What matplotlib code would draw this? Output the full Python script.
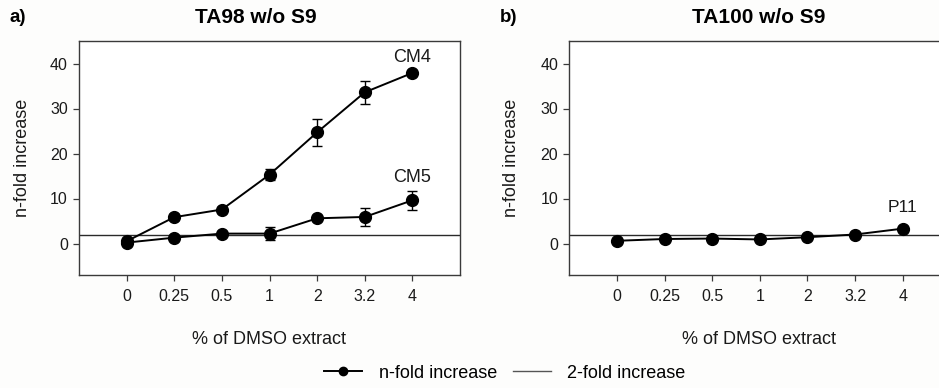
import matplotlib
matplotlib.use("Agg")
import matplotlib.pyplot as plt
from matplotlib.lines import Line2D

plt.rcParams['font.family'] = ['Liberation Sans', 'DejaVu Sans']

concentrations = ["0", "0.25", "0.5", "1", "2", "3.2", "4"]
cm4_values = [0.5, 5.85, 7.55, 15.3, 24.7, 33.6, 37.9]
cm4_errors = [0.3, 0.6, 0.6, 1.2, 3.0, 2.5, 0.5]
cm5_values = [0.2, 1.3, 2.2, 2.2, 5.6, 5.9, 9.6]
cm5_errors = [0.2, 0.3, 0.3, 1.5, 0.4, 2.1, 2.1]
p11_values = [0.6, 1.0, 1.1, 0.9, 1.4, 2.0, 3.3]
p11_errors = [0.2, 0.2, 0.2, 0.2, 0.3, 0.3, 0.4]
threshold = 2
yticks = [0, 10, 20, 30, 40]

W, H = 939, 388
fig = plt.figure(figsize=(W / 100, H / 100), dpi=100)
fig.patch.set_facecolor('#fdfdfc')

def px_axes(x0, x1, y0, y1):
    return fig.add_axes([x0 / W, 1 - y1 / H, (x1 - x0) / W, (y1 - y0) / H])

axL = px_axes(79, 460, 41, 275)
axR = px_axes(569.3, 950.3, 41, 275)

xs = list(range(len(concentrations)))
spine_col = '#3a3a3a'
txt_col = '#1a1a1a'

def style(ax):
    ax.set_xlim(-1, 7)
    ax.set_ylim(-7, 45)
    ax.set_xticks(xs)
    ax.set_xticklabels(concentrations)
    ax.set_yticks(yticks)
    ax.tick_params(direction='out', length=4, width=0.9, colors=spine_col,
                   labelsize=11.5, labelcolor=txt_col)
    ax.tick_params(axis='x', pad=6)
    ax.tick_params(axis='y', pad=4)
    for s in ax.spines.values():
        s.set_color(spine_col)
        s.set_linewidth(1.0)
    ax.set_facecolor('white')
    ax.axhline(threshold, color='#2a2a2a', lw=1.0, zorder=1)

def series(ax, vals, errs):
    ax.errorbar(xs, vals, yerr=errs, fmt='-o', color='black', lw=1.4,
                ms=8.5, elinewidth=1.0, capsize=3.5, capthick=1.0, zorder=3)

style(axL)
style(axR)
series(axL, cm4_values, cm4_errors)
series(axL, cm5_values, cm5_errors)
series(axR, p11_values, p11_errors)

axL.text(6, 41.4, "CM4", ha='center', va='center', fontsize=13, color=txt_col)
axL.text(6, 14.7, "CM5", ha='center', va='center', fontsize=13, color=txt_col)
axR.text(6, 8.1, "P11", ha='center', va='center', fontsize=12.5, color=txt_col)

fig.text(10 / W, 1 - 22 / H, "a)", fontsize=13.5, fontweight='bold', ha='left', va='baseline')
fig.text(500 / W, 1 - 22 / H, "b)", fontsize=13.5, fontweight='bold', ha='left', va='baseline')
fig.text(256 / W, 1 - 23 / H, "TA98 w/o S9", fontsize=15, fontweight='bold', ha='center', va='baseline')
fig.text(759 / W, 1 - 23 / H, "TA100 w/o S9", fontsize=15, fontweight='bold', ha='center', va='baseline')

for xc in (22.5, 511):
    fig.text(xc / W, 1 - 158 / H, "n-fold increase", rotation=90, fontsize=13,
             ha='center', va='center', color=txt_col)
for xc in (269.5, 759):
    fig.text(xc / W, 1 - 344 / H, "% of DMSO extract", fontsize=13,
             ha='center', va='baseline', color=txt_col)

handles = [Line2D([], [], color='black', marker='o', ms=6, lw=1.4),
           Line2D([], [], color='#555555', lw=1.0)]
fig.legend(handles, ["n-fold increase", "2-fold increase"], loc='center',
           bbox_to_anchor=(505 / W, 1 - 373 / H), ncol=2, frameon=False,
           fontsize=13, handlelength=2.1, columnspacing=0.9, handletextpad=0.9)

fig.savefig("out.png", dpi=100, facecolor=fig.get_facecolor())
